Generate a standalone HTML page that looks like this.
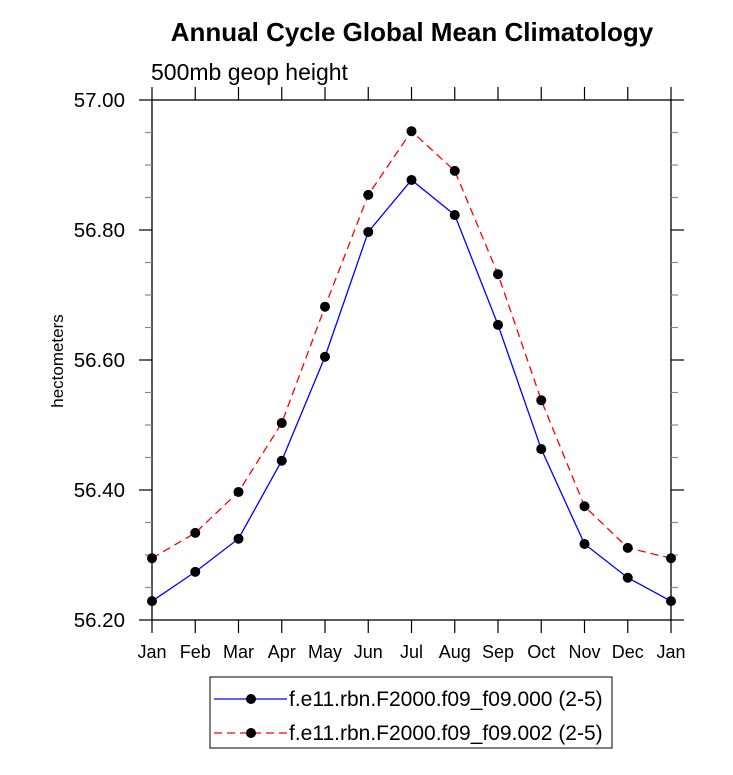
<!DOCTYPE html>
<html><head><meta charset="utf-8"><style>
body{margin:0;background:#fff}
svg text{font-family:"Liberation Sans",Helvetica,Arial,sans-serif}
</style></head><body>
<svg id="chart" width="733" height="770" viewBox="0 0 733 770" xmlns="http://www.w3.org/2000/svg">
<text x="412" y="41" font-size="26" font-weight="bold" text-anchor="middle">Annual Cycle Global Mean Climatology</text>
<text x="151" y="80" font-size="23">500mb geop height</text>
<text transform="translate(63,361) rotate(-90)" font-size="17" text-anchor="middle">hectometers</text>
<g id="axes"></g>
<g id="series"></g>
<g>
<rect x="210" y="677" width="402" height="71" fill="none" stroke="#000" stroke-width="1"/>
<g>
<line x1="214" y1="699" x2="287" y2="699" stroke="#0000ff" stroke-width="1.3"/>
<circle cx="251" cy="699" r="5" fill="#000"/>
<text x="289" y="706" font-size="21">f.e11.rbn.F2000.f09_f09.000 (2-5)</text>
</g>
<g>
<line x1="214" y1="733" x2="287" y2="733" stroke="#ff0000" stroke-width="1.3" stroke-dasharray="8,5"/>
<circle cx="251" cy="733" r="5" fill="#000"/>
<text x="289" y="740" font-size="21">f.e11.rbn.F2000.f09_f09.002 (2-5)</text>
</g>
</g>
</svg>
<script>
const months = ["Jan","Feb","Mar","Apr","May","Jun","Jul","Aug","Sep","Oct","Nov","Dec","Jan"];
const series000 = [56.229,56.274,56.325,56.445,56.605,56.797,56.877,56.823,56.654,56.463,56.317,56.265,56.229];
const series002 = [56.295,56.334,56.397,56.503,56.682,56.854,56.952,56.891,56.732,56.538,56.375,56.311,56.295];
const yTicks = [56.2,56.4,56.6,56.8,57.0];
const yTickLabels = ["56.20","56.40","56.60","56.80","57.00"];

const NS="http://www.w3.org/2000/svg";
const L=152,R=671,T=100,B=620,ymin=56.2,ymax=57.0;
const xs=i=>L+(R-L)*i/(months.length-1);
const ys=v=>B-(v-ymin)/(ymax-ymin)*(B-T);
function mk(tag,attrs,parent){const e=document.createElementNS(NS,tag);for(const k in attrs)e.setAttribute(k,attrs[k]);parent.appendChild(e);return e;}
const ax=document.getElementById('axes');
const box=mk('rect',{x:L,y:T,width:R-L,height:B-T,fill:'none',stroke:'#000','stroke-width':1.3},ax);


months.forEach((m,i)=>{
  const x=xs(i);
  mk('line',{x1:x,y1:B,x2:x,y2:B+13,stroke:'#000','stroke-width':1.2},ax);
  mk('line',{x1:x,y1:T,x2:x,y2:T-13,stroke:'#000','stroke-width':1.2},ax);
  const t=mk('text',{x:x,y:B+38,'font-size':18,'text-anchor':'middle'},ax);
  t.textContent=m;
  
  
});
yTicks.forEach((v,i)=>{
  const y=ys(v);
  mk('line',{x1:L,y1:y,x2:L-13,y2:y,stroke:'#000','stroke-width':1.2},ax);
  mk('line',{x1:R,y1:y,x2:R+13,y2:y,stroke:'#000','stroke-width':1.2},ax);
  const t=mk('text',{x:L-27,y:y+7,'font-size':20.5,'text-anchor':'end'},ax);
  t.textContent=yTickLabels[i];
  
  
});
for(let v=ymin+0.05;v<ymax-0.01;v+=0.05){
  if(Math.abs(Math.round(v/0.2)*0.2-v)<0.01) continue;
  const y=ys(v);
  mk('line',{x1:L,y1:y,x2:L-7,y2:y,stroke:'#888','stroke-width':1.2},ax);
  mk('line',{x1:R,y1:y,x2:R+7,y2:y,stroke:'#888','stroke-width':1.2},ax);
}
const sg=document.getElementById('series');
function draw(data,color,dash,name){
  const g=mk('g',{},sg);
  
  
  const pl=mk('polyline',{points:data.map((v,i)=>xs(i)+','+ys(v)).join(' '),fill:'none',stroke:color,'stroke-width':1.3},g);
  if(dash) pl.setAttribute('stroke-dasharray',dash);
  data.forEach((v,i)=>{
    const c=mk('circle',{cx:xs(i),cy:ys(v),r:5,fill:'#000'},g);
    
    
  });
}
draw(series000,'#0000ff',null,'series-000');
draw(series002,'#ff0000','8,5','series-002');
</script>
</body></html>
